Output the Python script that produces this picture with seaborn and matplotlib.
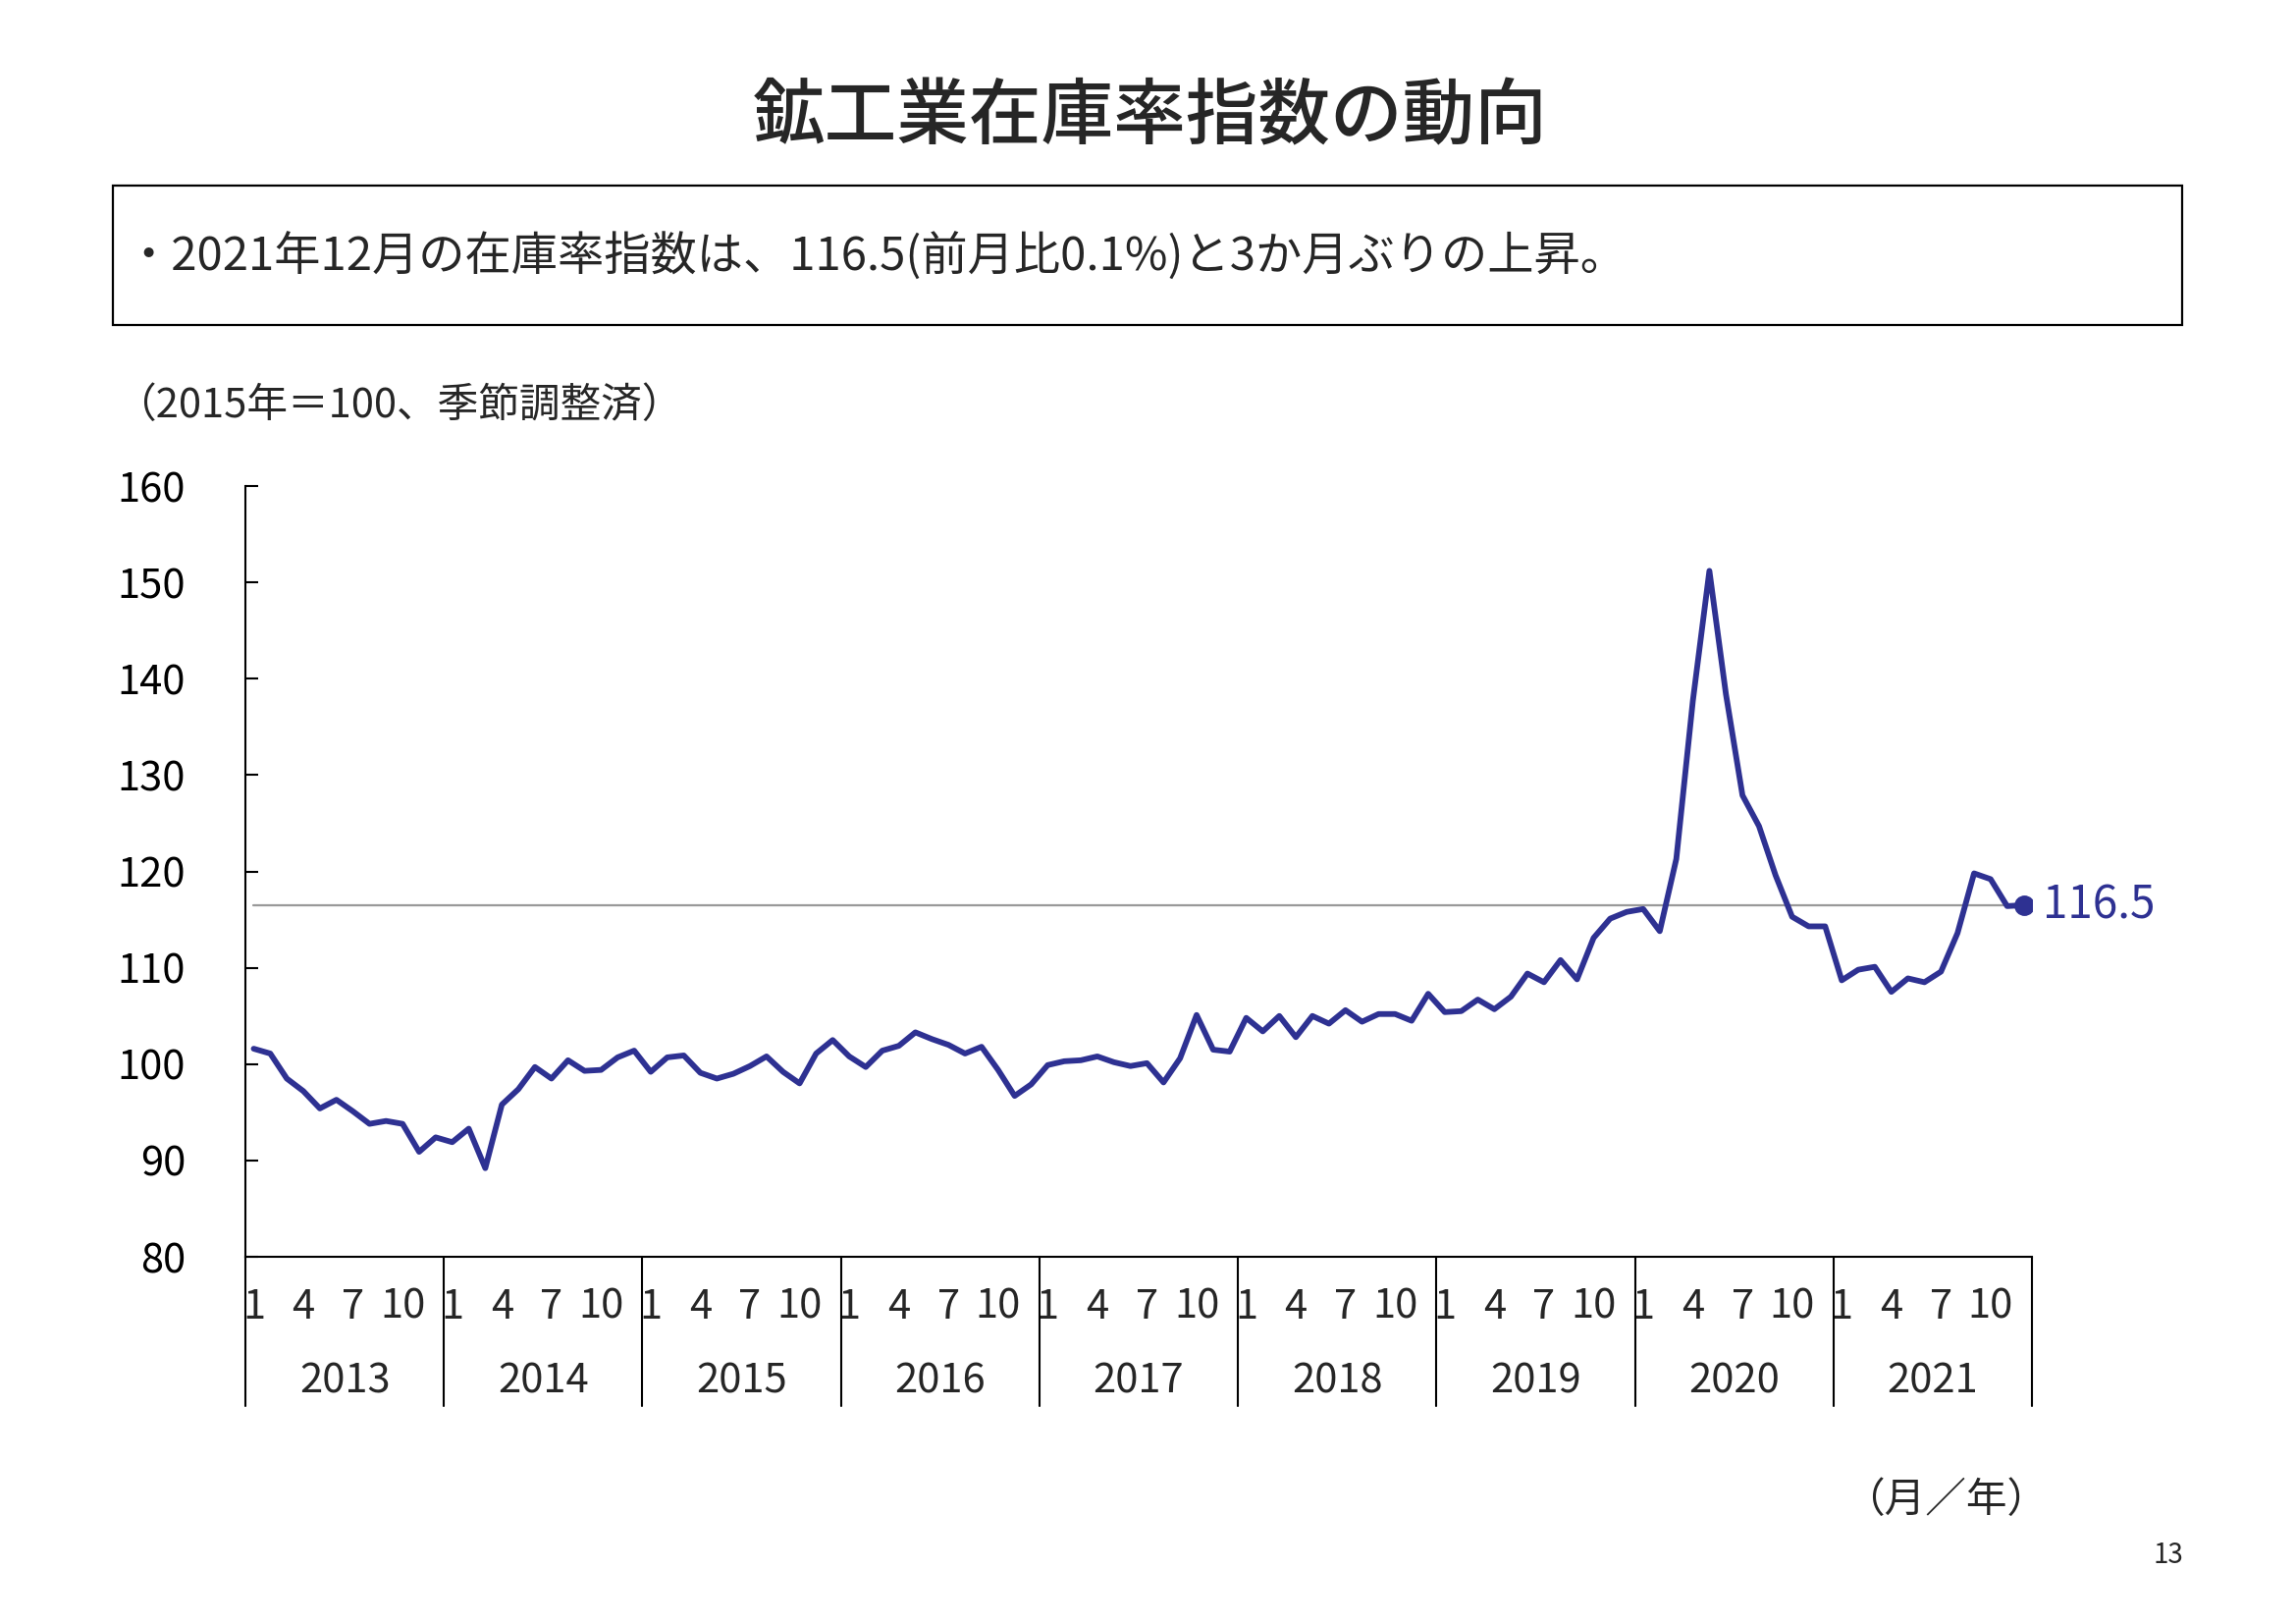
"""鉱工業在庫率指数の動向 — recreate chart and save to out.png"""
import numpy as np
import matplotlib
matplotlib.use("Agg")
import matplotlib.pyplot as plt
import matplotlib.transforms as mtransforms
from matplotlib.patches import Rectangle
import seaborn as sns

sns.set_theme(style="white")
plt.rcParams["font.family"] = ["Noto Sans CJK JP", "DejaVu Sans"]

LINE_COLOR = "#2E3192"

# Data: monthly index, Jan 2013 - Dec 2021 (2015 = 100, seasonally adjusted)
YEARS = ["2013", "2014", "2015", "2016", "2017", "2018", "2019", "2020", "2021"]
MONTH_TICKS = ["1", "4", "7", "10"]
VALUES_2013 = [101.6, 101.1, 98.5, 97.2, 95.4, 96.3, 95.1, 93.8, 94.1, 93.8, 90.9, 92.4]
VALUES_2014 = [91.9, 93.3, 89.2, 95.8, 97.4, 99.7, 98.5, 100.4, 99.3, 99.4, 100.7, 101.4]
VALUES_2015 = [99.2, 100.7, 100.9, 99.1, 98.5, 99.0, 99.8, 100.8, 99.2, 98.0, 101.1, 102.5]
VALUES_2016 = [100.8, 99.7, 101.4, 101.9, 103.3, 102.6, 102.0, 101.1, 101.8, 99.4, 96.7, 97.9]
VALUES_2017 = [99.9, 100.3, 100.4, 100.8, 100.2, 99.8, 100.1, 98.1, 100.6, 105.1, 101.5, 101.3]
VALUES_2018 = [104.8, 103.4, 105.0, 102.8, 105.0, 104.2, 105.6, 104.4, 105.2, 105.2, 104.5, 107.3]
VALUES_2019 = [105.4, 105.5, 106.7, 105.7, 107.0, 109.4, 108.5, 110.8, 108.8, 113.1, 115.1, 115.8]
VALUES_2020 = [116.1, 113.8, 121.3, 137.7, 151.2, 138.4, 127.9, 124.7, 119.6, 115.3, 114.3, 114.3]
VALUES_2021 = [108.7, 109.8, 110.1, 107.5, 108.9, 108.5, 109.6, 113.6, 119.8, 119.2, 116.4, 116.5]

values = (VALUES_2013 + VALUES_2014 + VALUES_2015 + VALUES_2016 + VALUES_2017
          + VALUES_2018 + VALUES_2019 + VALUES_2020 + VALUES_2021)
idx = np.arange(len(values))
last_val = values[-1]

fig = plt.figure(figsize=(23.39, 16.54), dpi=100)
ax = fig.add_axes([0.1069, 0.2261, 0.7781, 0.4746])

# reference line at latest value
ax.plot([0, idx[-1]], [last_val, last_val], color="#999999", lw=1.6, zorder=1)
sns.lineplot(x=idx, y=values, ax=ax, color=LINE_COLOR, lw=4.2, zorder=3)
ax.plot(idx[-1], last_val, "o", color=LINE_COLOR, ms=14, zorder=4)
ax.annotate(f"{last_val:.1f}", (idx[-1], last_val), xytext=(14, 0),
            textcoords="offset points", va="center", ha="left",
            fontsize=33, color=LINE_COLOR)

ax.set_xlim(-0.5, len(values) - 0.5)
ax.set_ylim(80, 160)
ax.set_yticks(np.arange(80, 161, 10))
ax.tick_params(axis="y", direction="in", length=9, width=1.5, pad=44,
               labelsize=30, left=True, colors="black")

# month ticks (1, 4, 7, 10) for each year
xt = [12 * y + m for y in range(len(YEARS)) for m in (0, 3, 6, 9)]
ax.set_xticks(xt)
ax.set_xticklabels(MONTH_TICKS * len(YEARS))
ax.tick_params(axis="x", length=0, pad=22, labelsize=30)

for s in ["top", "right"]:
    ax.spines[s].set_visible(False)
for s in ["left", "bottom"]:
    ax.spines[s].set_color("black")
    ax.spines[s].set_linewidth(1.5)

# year separators and labels below the axis
trans = mtransforms.blended_transform_factory(ax.transData, ax.transAxes)
for k in range(len(YEARS) + 1):
    xb = -0.5 + 12 * k
    ax.plot([xb, xb], [0, -0.194], transform=trans, color="black",
            lw=1.5, clip_on=False)
for k, yr in enumerate(YEARS):
    ax.text(12 * k + 5.5, -0.162, yr, transform=trans, ha="center",
            va="center", fontsize=30)
ax.set_xlabel("")
ax.set_ylabel("")

# title, summary box and notes
fig.text(0.501, 0.927, "鉱工業在庫率指数の動向", ha="center", va="center",
         fontsize=53, fontweight="medium")
fig.patches.append(Rectangle((0.0492, 0.7999), 0.9012, 0.0858,
                             transform=fig.transFigure, fill=False,
                             edgecolor="black", lw=1.6))
fig.text(0.0545, 0.8413,
         "・2021年12月の在庫率指数は、116.5(前月比0.1%)と3か月ぶりの上昇。",
         ha="left", va="center", fontsize=34)
fig.text(0.0500, 0.750, "（2015年＝100、季節調整済）", ha="left", va="center",
         fontsize=30)
fig.text(0.892, 0.0756, "（月／年）", ha="right", va="center", fontsize=30)
fig.text(0.951, 0.0423, "13", ha="right", va="center", fontsize=20)

plt.savefig("out.png", dpi=100)
plt.close()
